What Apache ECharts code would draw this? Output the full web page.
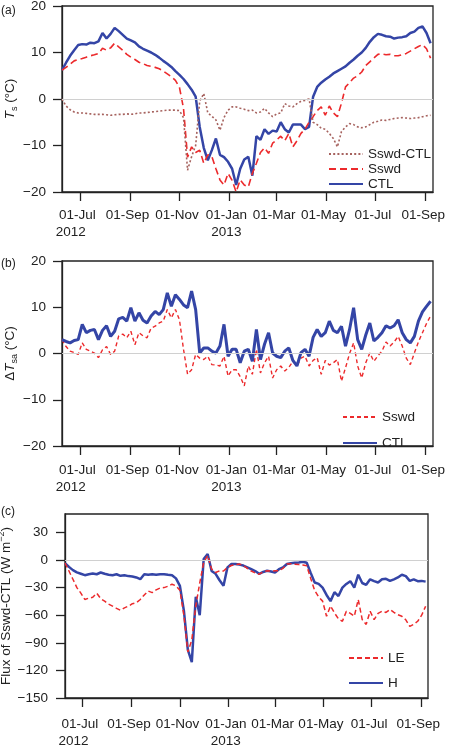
<!DOCTYPE html>
<html><head><meta charset="utf-8">
<script src="https://cdn.jsdelivr.net/npm/echarts@6/dist/echarts.min.js"></script>
<style>html,body{margin:0;padding:0;background:#fff}#c{width:460px;height:746px}</style>
</head><body><div id="c"></div>
<script>
// sampling of the daily series: every 5 days from 9 Jun 2012
const startDate = '2012-06-09';
const stepDays = 5;
const axisStart = '2012-06-09';
const axisEnd = '2013-09-10';

const tickDates = ['2012-07-01','2012-09-01','2012-11-01','2013-01-01','2013-03-01','2013-05-01','2013-07-01','2013-09-01'];
const tickLabels = ['01-Jul','01-Sep','01-Nov','01-Jan','01-Mar','01-May','01-Jul','01-Sep'];
const yearLabels = ['2012','','','2013','','','',''];

// (a) Ts (°C)
const tsCTL = [6.2,7.8,9.3,10.5,11.6,11.8,11.7,12.1,12.0,12.4,
 14.2,13.0,14.0,15.3,14.6,13.8,13.0,12.6,12.2,11.3,
 10.8,10.4,10.0,9.5,8.9,8.2,7.6,6.9,6.0,5.2,
 4.3,3.2,2.0,0.5,-6.0,-10.5,-13.2,-11.0,-8.5,-12.0,
 -12.5,-13.5,-15.0,-18.5,-15.0,-13.0,-12.4,-16.5,-8.0,-8.8,
 -6.5,-7.5,-6.8,-7.0,-5.0,-6.5,-7.2,-5.5,-5.5,-5.5,
 -6.5,-6.0,0.5,2.6,3.5,4.2,4.8,5.5,6.0,6.5,
 7.0,7.8,8.5,9.3,10.0,11.0,12.3,13.3,14.0,13.8,
 13.5,13.4,13.0,13.2,13.3,13.5,14.2,14.5,15.3,15.6,
 14.2,12.0];
const tsSswd = [6.2,6.8,7.5,8.2,8.5,8.7,9.0,9.3,9.5,9.8,
 10.9,10.5,11.0,12.0,11.2,10.5,9.6,9.0,8.5,7.9,
 7.6,7.2,7.0,6.8,6.5,6.0,5.4,4.8,4.0,2.5,
 -2.0,-12.5,-10.3,-11.5,-11.0,-13.8,-12.0,-12.4,-15.0,-17.4,
 -18.5,-16.0,-17.5,-20.0,-17.4,-18.5,-18.9,-16.0,-13.8,-11.5,
 -10.5,-11.7,-9.5,-8.8,-8.0,-9.0,-7.4,-10.3,-9.0,-7.4,
 -6.5,-5.0,-3.8,-2.5,-1.7,-3.5,-1.5,-3.0,-3.8,-0.9,
 2.6,3.5,4.5,5.0,5.8,7.2,8.0,8.8,9.6,9.7,
 9.5,9.6,9.3,9.3,9.5,9.8,10.3,10.8,11.3,11.7,
 10.8,8.8];
const tsDiff = [0,-1.5,-2.3,-2.8,-3.0,-3.0,-3.1,-3.2,-3.3,-3.3,
 -3.3,-3.4,-3.5,-3.4,-3.3,-3.3,-3.2,-3.3,-3.2,-3.0,
 -3.0,-2.9,-2.8,-2.7,-2.6,-2.5,-2.4,-2.4,-2.4,-2.5,
 -4.0,-15.3,-12.4,-10.0,-0.5,1.2,-3.0,-3.7,-4.5,-6.7,
 -4.0,-2.4,-1.7,-1.7,-2.0,-2.2,-2.5,-2.4,-3.0,-2.8,
 -2.0,-3.0,-3.8,-3.2,-3.0,-1.0,-1.5,-1.7,-1.0,-0.5,
 -0.3,0.0,-5.0,-5.5,-6.3,-6.5,-7.4,-8.5,-10.3,-7.0,
 -6.0,-5.3,-5.5,-6.0,-6.2,-6.0,-5.5,-5.0,-4.8,-4.5,
 -4.6,-4.4,-4.2,-4.1,-4.0,-4.1,-4.2,-4.1,-4.0,-3.8,
 -3.6,-3.5];

// (b) ΔTsa (°C)
const dtCTL = [3.0,2.6,2.3,2.8,3.0,6.3,4.5,5.0,5.2,3.0,
 5.0,6.0,3.7,4.8,7.5,7.8,7.0,9.9,7.0,8.8,
 7.2,6.6,8.1,9.1,8.4,9.5,13.1,10.2,12.7,11.7,
 10.5,9.9,13.5,9.5,0.1,1.2,1.2,0.5,0.1,1.6,
 6.3,-0.6,0.9,0.9,-2.0,0.5,0.9,-1.7,5.2,-1.3,
 2.0,4.5,0.1,-0.6,-0.9,0.5,1.2,-1.5,-2.7,0.2,
 0.9,-0.6,3.5,5.2,3.7,4.5,7.0,5.0,4.5,5.9,
 1.6,5.2,9.9,3.0,0.9,4.0,6.6,2.7,3.5,4.5,
 6.0,5.5,6.0,7.3,4.5,3.0,2.3,3.7,7.0,9.0,
 10.2,11.3];
const dtSswd = [3.0,1.5,0.5,0.2,-0.2,2.3,0.9,0.5,0.1,-0.9,
 0.8,1.5,-0.2,0.5,3.8,4.2,3.4,4.8,1.9,4.5,
 3.8,3.4,5.5,5.9,6.6,7.0,9.5,7.7,9.5,7.3,
 0.9,-4.5,-3.5,-0.2,-1.0,-1.3,-0.6,-2.4,-2.5,-2.7,
 -0.6,-4.9,-3.5,-3.5,-5.0,-7.0,-2.7,-4.5,0.9,-4.2,
 -2.0,-0.6,-5.3,-3.5,-2.7,-3.8,-3.0,-1.7,-2.7,-1.0,
 -0.6,-2.7,-1.5,-0.9,-4.5,-1.5,-2.5,-2.0,-1.3,-6.0,
 -3.1,0.0,2.3,-2.7,-5.3,-2.0,0.1,-1.7,-0.5,0.5,
 2.5,1.6,2.5,3.7,1.6,-1.0,-2.4,0.1,2.5,4.5,
 6.5,8.1];

// (c) Flux of Sswd-CTL (W m-2)
const fluxLE = [-3.3,-12.0,-20.9,-30.0,-36.0,-42.9,-41.5,-40.5,-36.0,-42.0,
 -44.7,-48.0,-50.2,-52.5,-54.6,-52.0,-50.2,-47.5,-46.5,-42.9,
 -38.0,-33.7,-35.5,-32.5,-30.5,-30.0,-28.5,-26.3,-28.0,-33.0,
 -60.0,-100.0,-86.8,-50.0,-25.0,-2.6,4.8,-9.9,-13.6,-11.7,
 -12.0,-8.1,-6.0,-5.0,-4.4,-6.0,-9.0,-12.0,-14.0,-15.4,
 -13.0,-11.7,-12.0,-11.7,-11.7,-9.0,-4.4,-4.0,-4.5,-5.0,
 -5.5,-6.2,-20.0,-33.0,-40.0,-44.7,-61.2,-50.0,-57.5,-64.0,
 -66.6,-55.7,-58.0,-61.2,-42.9,-64.8,-70.0,-55.7,-64.8,-58.0,
 -55.7,-57.0,-53.8,-57.0,-59.4,-61.2,-65.0,-72.2,-70.0,-66.6,
 -60.0,-50.2];
const fluxH = [-3.3,-7.5,-11.0,-13.5,-15.0,-16.5,-15.5,-14.7,-15.5,-13.6,
 -15.0,-16.0,-16.5,-15.5,-17.2,-16.5,-17.5,-17.9,-19.0,-20.9,
 -15.4,-16.0,-15.4,-16.0,-15.4,-15.4,-16.0,-16.5,-20.0,-28.2,
 -55.0,-97.8,-111.0,-40.0,-60.0,1.1,6.6,-12.0,-15.0,-22.0,
 -28.0,-8.0,-4.4,-4.4,-5.0,-6.0,-8.0,-10.0,-12.0,-15.0,
 -13.0,-11.7,-12.5,-13.6,-10.0,-8.1,-4.4,-3.5,-3.0,-2.6,
 -2.0,-3.0,-14.0,-24.5,-26.0,-30.0,-38.0,-44.7,-35.0,-39.2,
 -30.0,-26.0,-23.0,-30.0,-16.0,-25.0,-27.0,-21.0,-23.0,-24.5,
 -21.0,-20.5,-22.7,-21.0,-19.0,-16.0,-17.5,-22.7,-21.0,-23.0,
 -22.7,-23.5];

// ---------------------------------------------------------------
const FONT = '"Liberation Sans", Arial, sans-serif';
const TXT = '#222';
const BLUE = '#3445a6';
const RED = '#ec2a2c';
const BROWN = '#a6625e';

const DAY = 86400000;
const toUTC = s => { const p = s.split('-').map(Number); return Date.UTC(p[0], p[1] - 1, p[2]); };
const origin = toUTC(tickDates[0]);             // x in days since 01-Jul-2012
const dayOf = s => Math.round((toUTC(s) - origin) / DAY);
const d0 = dayOf(startDate);
const days = tsCTL.map((_, i) => d0 + stepDays * i);
const tickDays = tickDates.map(dayOf);
const xMin = dayOf(axisStart);
const xMax = dayOf(axisEnd);
const pair = arr => arr.map((v, i) => [days[i], v]);
const minus = v => (v < 0 ? '\u2212' + (-v) : String(v));

function xLabel(value) {
  const k = tickDays.indexOf(Math.round(value));
  if (k < 0) return '';
  if (!yearLabels[k]) return tickLabels[k];
  return tickLabels[k] + '\n{' + (k === 0 ? 'yl' : 'yc') + '|' + yearLabels[k] + '}';
}

const grids = [
  { left: 62, right: 27, top: 6, height: 186 },
  { left: 62, right: 27, top: 261, height: 185 },
  { left: 65, right: 32, top: 514, height: 184 }
].map(g => Object.assign(g, { show: true, borderColor: '#222', borderWidth: 1.3, outerBoundsMode: 'none', containLabel: false }));

const xMargins = [14.5, 15.5, 17.5];
const xAxes = [0, 1, 2].map(i => ({
  type: 'value', gridIndex: i, min: xMin, max: xMax,
  axisLine: { show: true, onZero: false, lineStyle: { color: '#222', width: 1.3 } },
  axisTick: { show: true, length: 9, customValues: tickDays, lineStyle: { color: '#222', width: 1.3 } },
  axisLabel: {
    customValues: tickDays, formatter: xLabel, margin: xMargins[i],
    color: TXT, fontSize: 13.5, fontFamily: FONT, lineHeight: 17, padding: [0, 5, 0, 0],
    rich: {
      yl: { color: TXT, fontSize: 13.5, fontFamily: FONT, lineHeight: 17, padding: [0, 13, 0, 0] },
      yc: { color: TXT, fontSize: 13.5, fontFamily: FONT, lineHeight: 17 }
    }
  },
  splitLine: { show: false }, minorTick: { show: false }
}));

const nameStyle = {
  color: TXT, fontSize: 13.5, fontFamily: FONT, lineHeight: 18,
  rich: {
    it: { fontStyle: 'italic', fontSize: 13.5, fontFamily: FONT, color: TXT, lineHeight: 18 },
    sub: { fontSize: 9, fontFamily: FONT, color: TXT, lineHeight: 9, verticalAlign: 'bottom' },
    sup: { fontSize: 9, fontFamily: FONT, color: TXT, lineHeight: 9, verticalAlign: 'top' }
  }
};
function yAxis(i, min, max, interval, name, gap, margin, custom) {
  const ax = {
    type: 'value', gridIndex: i, min, max, interval,
    name, nameLocation: 'middle', nameRotate: 90, nameGap: gap, nameTextStyle: nameStyle,
    nameMoveOverlap: false,
    axisLine: { show: true, onZero: false, lineStyle: { color: '#222', width: 1.3 } },
    axisTick: { show: true, length: 9, lineStyle: { color: '#222', width: 1.3 } },
    axisLabel: { formatter: minus, margin, color: TXT, fontSize: 13.5, fontFamily: FONT },
    splitLine: { show: false }
  };
  if (custom) { ax.axisTick.customValues = custom; ax.axisLabel.customValues = custom; }
  return ax;
}
const fluxTicks = [-150, -120, -90, -60, -30, 0, 30];
const yAxes = [
  yAxis(0, -20, 20, 10, '{it|T}{sub|s} (°C)', 43, 16),
  yAxis(1, -20, 20, 10, 'Δ{it|T}{sub|sa} (°C)', 43, 16),
  yAxis(2, -150, 50, 30, 'Flux of Sswd-CTL (W m{sup|\u22122})', 50, 17, fluxTicks)
];

const zeroLine = {
  silent: true, symbol: 'none', label: { show: false }, animation: false,
  lineStyle: { color: '#d0d0d0', width: 1, type: 'solid' }, data: [{ yAxis: 0 }]
};
function line(name, data, xi, color, width, type, extra) {
  return Object.assign({
    name, type: 'line', xAxisIndex: xi, yAxisIndex: xi, data: pair(data),
    symbol: 'none', showSymbol: false, smooth: false, animation: false,
    lineStyle: { color, width, type }, itemStyle: { color }
  }, extra || {});
}

const series = [
  line('CTL', tsCTL, 0, BLUE, 2.5, 'solid', { markLine: zeroLine }),
  line('Sswd', tsSswd, 0, RED, 1.6, [7, 4]),
  line('Sswd-CTL', tsDiff, 0, BROWN, 1.6, [2, 2.2]),
  line('Sswd_b', dtSswd, 1, RED, 1.4, [4, 3], { markLine: zeroLine }),
  line('CTL_b', dtCTL, 1, BLUE, 3),
  line('H', fluxH, 2, BLUE, 2.5, 'solid', { markLine: zeroLine }),
  line('LE', fluxLE, 2, RED, 1.5, [5, 3])
];

const legendBase = {
  orient: 'vertical', itemWidth: 34, itemHeight: 12, padding: 0,
  itemStyle: { opacity: 0 },
  textStyle: { color: TXT, fontSize: 13.5, fontFamily: FONT },
  formatter: n => n.replace('_b', ''), selectedMode: false
};
const legends = [
  Object.assign({}, legendBase, { left: 328, top: 147, itemGap: 1, data: ['Sswd-CTL', 'Sswd', 'CTL'] }),
  Object.assign({}, legendBase, { left: 342, top: 410, itemGap: 12, data: ['Sswd_b', 'CTL_b'] }),
  Object.assign({}, legendBase, { left: 348, top: 651, itemGap: 11, data: ['LE', 'H'] })
];

const titles = [['(a)', 5], ['(b)', 258], ['(c)', 506]].map(t => ({
  text: t[0], left: 1, top: t[1], padding: 0,
  textStyle: { color: TXT, fontSize: 12, fontWeight: 'normal', fontFamily: FONT }
}));

const chart = echarts.init(document.getElementById('c'), null, { renderer: 'canvas' });
chart.setOption({
  backgroundColor: '#fff', animation: false,
  title: titles, legend: legends, grid: grids,
  xAxis: xAxes, yAxis: yAxes, series
});
</script></body></html>
